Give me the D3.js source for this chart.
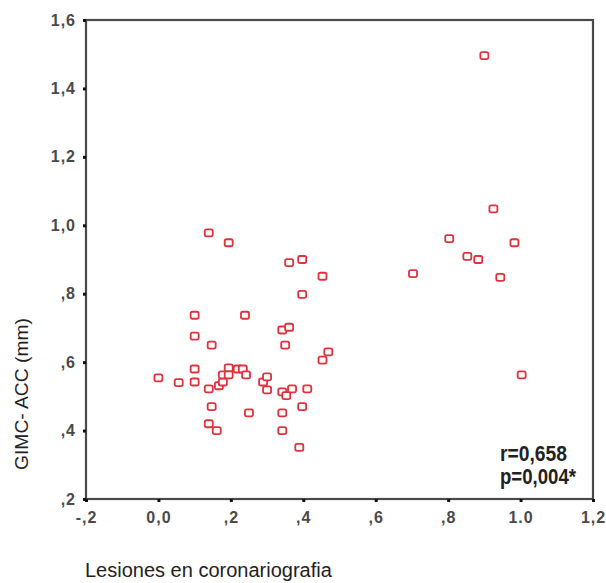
<!DOCTYPE html>
<html>
<head>
<meta charset="utf-8">
<script src="https://cdn.jsdelivr.net/npm/d3@7"></script>
<style>
  body { margin: 0; background: #fff; }
  text { font-family: Arial, "Liberation Sans", sans-serif; }
</style>
</head>
<body>
<div id="chart"></div>
<script>
// Lesiones en coronariografia (x) vs GIMC-ACC mm (y)
var lesiones = [0.0, 0.056, 0.1, 0.1, 0.1, 0.1, 0.139, 0.147, 0.139, 0.167, 0.178, 0.178, 0.194,
    0.194, 0.219, 0.233, 0.242, 0.239, 0.25, 0.147, 0.139, 0.161, 0.194, 0.289, 0.3, 0.3,
    0.342, 0.353, 0.369, 0.411, 0.397, 0.342, 0.342, 0.389, 0.35, 0.342, 0.361, 0.361,
    0.397, 0.453, 0.397, 0.453, 0.469, 0.9, 0.925, 0.803, 0.983, 0.853, 0.883, 0.703,
    0.944, 1.003];
var gimc = [0.554, 0.54, 0.737, 0.676, 0.58, 0.542, 0.978, 0.65, 0.522, 0.531, 0.542, 0.563, 0.583,
    0.563, 0.58, 0.58, 0.563, 0.737, 0.452, 0.47, 0.42, 0.4, 0.949, 0.542, 0.557, 0.519,
    0.513, 0.502, 0.522, 0.522, 0.47, 0.452, 0.4, 0.351, 0.65, 0.694, 0.702, 0.891,
    0.9, 0.851, 0.798, 0.606, 0.63, 1.496, 1.048, 0.961, 0.949, 0.909, 0.9, 0.859,
    0.848, 0.563];

var xTicks = [-0.2, 0, 0.2, 0.4, 0.6, 0.8, 1.0, 1.2];
var xTickLabels = ["-,2", "0,0", ",2", ",4", ",6", ",8", "1.0", "1,2"];
var yTicks = [0.2, 0.4, 0.6, 0.8, 1.0, 1.2, 1.4, 1.6];
var yTickLabels = [",2", ",4", ",6", ",8", "1,0", "1,2", "1,4", "1,6"];

var width = 606, height = 583;
var plotLeft = 86, plotRight = 593, plotTop = 20, plotBottom = 499;

var svg = d3.select("#chart").append("svg")
    .attr("width", width)
    .attr("height", height);

var x = d3.scaleLinear().domain([-0.2, 1.2]).range([plotLeft, plotRight]);
var y = d3.scaleLinear().domain([0.2, 1.6]).range([plotBottom, plotTop]);

//Frame
svg.append("rect")
    .attr("x", plotLeft).attr("y", plotTop)
    .attr("width", plotRight - plotLeft).attr("height", plotBottom - plotTop)
    .attr("fill", "none")
    .attr("stroke", "#4a4a4a")
    .attr("stroke-width", 2.2);

//Axes
var xAxis = d3.axisBottom(x)
    .tickValues(xTicks)
    .tickSize(3)
    .tickPadding(10)
    .tickFormat(function (d, i) { return xTickLabels[i]; });
var yAxis = d3.axisLeft(y)
    .tickValues(yTicks)
    .tickSize(3)
    .tickPadding(7)
    .tickFormat(function (d, i) { return yTickLabels[i]; });

var gx = svg.append("g").attr("transform", "translate(0," + plotBottom + ")").call(xAxis);
var gy = svg.append("g").attr("transform", "translate(" + plotLeft + ",0)").call(yAxis);

[gx, gy].forEach(function (g) {
    g.select(".domain").remove();
    g.selectAll(".tick line").attr("stroke", "#111").attr("stroke-width", 3);
    g.selectAll(".tick text")
        .attr("fill", "#4a4a4a")
        .style("font-size", "16px")
        .style("font-weight", "bold")
        .style("font-family", "Arial, 'Liberation Sans', sans-serif")
        .style("letter-spacing", "1px");
});

//Points
svg.append("g").selectAll("rect")
    .data(lesiones)
    .enter()
    .append("rect")
    .attr("x", function (d) { return x(d) - 4; })
    .attr("y", function (d, i) { return y(gimc[i]) - 3.5; })
    .attr("width", 8)
    .attr("height", 7)
    .attr("rx", 1.8)
    .attr("fill", "#fff")
    .attr("stroke", "#e0323c")
    .attr("stroke-width", 1.8);

//Stats
svg.append("text")
    .attr("x", 500).attr("y", 461)
    .attr("textLength", 67).attr("lengthAdjust", "spacingAndGlyphs")
    .style("font-size", "22px")
    .style("font-weight", "bold")
    .attr("fill", "#222")
    .text("r=0,658");
svg.append("text")
    .attr("x", 500).attr("y", 484)
    .attr("textLength", 76).attr("lengthAdjust", "spacingAndGlyphs")
    .style("font-size", "22px")
    .style("font-weight", "bold")
    .attr("fill", "#222")
    .text("p=0,004*");

//Axis titles
svg.append("text")
    .attr("transform", "translate(28,394) rotate(-90)")
    .attr("text-anchor", "middle")
    .attr("textLength", 152).attr("lengthAdjust", "spacingAndGlyphs")
    .style("font-size", "19px")
    .attr("fill", "#222")
    .text("GIMC- ACC (mm)");

svg.append("text")
    .attr("x", 85).attr("y", 577)
    .style("font-size", "20px")
    .attr("fill", "#222")
    .text("Lesiones en coronariografia");
</script>
</body>
</html>
